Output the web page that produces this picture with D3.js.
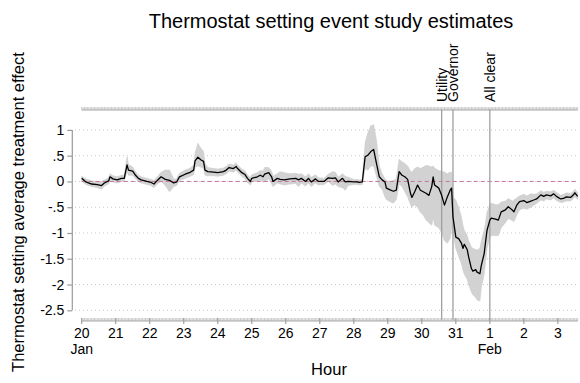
<!DOCTYPE html>
<html lang="en">
<head>
<meta charset="utf-8">
<title>Thermostat setting event study estimates</title>
<script src="https://d3js.org/d3.v7.min.js"></script>
<style>
  body { margin: 0; background: #fff; }
  svg { display: block; font-family: "Liberation Sans", Arial, sans-serif; }
</style>
</head>
<body>
<script>
// hours since Jan 20 00:00
var hours = [0, 3, 7, 11, 14, 16, 19, 20, 22, 25, 28, 30, 32, 33, 36, 38, 40, 42, 46, 49,
  51, 53, 56, 59, 62, 65, 67, 69, 73, 76, 79, 80, 82, 84, 86, 87, 89, 93, 96, 100,
  102, 104, 107, 109, 110, 113, 115, 117, 119, 120, 124, 126, 128, 129, 132, 134, 135, 138, 140, 143,
  147, 151, 153, 155, 158, 160, 162, 165, 167, 171, 174, 177, 179, 181, 184, 186, 188, 192, 194, 196,
  198, 200, 202, 204, 206, 208, 210, 212, 214, 215, 218, 220, 222, 224, 226, 228, 230, 232, 233, 235,
  237, 239, 241, 243, 245, 247, 248, 249, 252, 254, 256, 258, 260, 261, 262, 264, 266, 268, 269, 270,
  272, 273, 275, 276, 278, 279, 281, 282, 284, 285, 286, 288, 289, 292, 294, 296, 299, 301, 304, 305,
  307, 309, 312, 314, 317, 319, 321, 324, 326, 328, 331, 333, 335, 338, 340, 342, 345, 347, 348, 350];

var estimate = [0.06, -0.01, -0.05, -0.06, -0.08, -0.03, 0.01, 0.09, 0.05, 0.03, 0.06, 0.06, 0.32, 0.22, 0.2, 0.12, 0.06, 0.03, 0.0, -0.02,
  -0.05, 0.01, 0.09, 0.04, 0.02, -0.03, -0.01, 0.09, 0.14, 0.17, 0.22, 0.4, 0.47, 0.42, 0.39, 0.22, 0.19, 0.18, 0.17, 0.19,
  0.22, 0.27, 0.25, 0.29, 0.25, 0.17, 0.14, 0.06, 0.0, 0.06, 0.09, 0.12, 0.09, 0.14, 0.17, 0.09, 0.0, 0.06, 0.04, 0.03,
  0.05, 0.06, 0.03, 0.06, 0.0, 0.06, -0.01, 0.05, 0.0, 0.0, 0.07, 0.06, 0.07, -0.01, 0.06, -0.01, 0.0, -0.01, -0.01, -0.02,
  -0.01, 0.48, 0.51, 0.58, 0.62, 0.35, 0.09, 0.03, -0.01, -0.13, -0.17, -0.19, -0.17, 0.19, 0.12, 0.09, 0.04, -0.23, -0.31, -0.2,
  -0.07, -0.17, -0.2, -0.23, -0.27, -0.1, 0.09, -0.07, -0.13, -0.27, -0.46, -0.3, -0.17, -0.13, -0.69, -1.08, -1.11, -1.2, -1.3, -1.22,
  -1.32, -1.46, -1.69, -1.74, -1.71, -1.76, -1.79, -1.63, -1.4, -1.17, -0.95, -0.75, -0.71, -0.73, -0.75, -0.59, -0.55, -0.49, -0.56, -0.59,
  -0.46, -0.39, -0.37, -0.41, -0.38, -0.36, -0.34, -0.26, -0.29, -0.26, -0.28, -0.24, -0.29, -0.34, -0.33, -0.3, -0.31, -0.26, -0.22, -0.29];

var lower = [0.0, -0.06, -0.1, -0.12, -0.15, -0.09, -0.05, 0.03, -0.01, -0.03, 0.0, 0.0, 0.2, 0.12, 0.12, 0.05, 0.0, -0.03, -0.06, -0.08,
  -0.12, -0.06, 0.0, -0.08, -0.2, -0.1, -0.08, 0.02, 0.06, 0.09, 0.13, 0.28, 0.3, 0.28, 0.25, 0.12, 0.11, 0.11, 0.1, 0.12,
  0.15, 0.2, 0.18, 0.22, 0.18, 0.1, 0.06, -0.02, -0.07, -0.01, 0.01, 0.03, -0.02, 0.0, 0.05, -0.05, -0.1, -0.03, -0.05, -0.07,
  -0.05, -0.04, -0.1, -0.03, -0.09, -0.03, -0.1, -0.03, -0.07, -0.06, 0.0, -0.08, -0.05, -0.1, -0.12, -0.17, -0.08, -0.06, -0.06, -0.07,
  -0.06, 0.25, 0.22, 0.3, 0.3, 0.1, -0.1, -0.15, -0.3, -0.35, -0.4, -0.42, -0.35, -0.05, -0.1, -0.2, -0.3, -0.45, -0.5, -0.45,
  -0.5, -0.6, -0.65, -0.75, -0.8, -0.85, -0.7, -0.85, -0.9, -1.0, -1.15, -1.2, -1.1, -0.9, -1.0, -1.3, -1.45, -1.6, -1.72, -1.8,
  -1.9, -2.0, -2.15, -2.2, -2.25, -2.3, -2.32, -2.05, -1.8, -1.55, -1.3, -1.1, -1.05, -1.05, -1.05, -0.9, -0.8, -0.72, -0.76, -0.78,
  -0.65, -0.55, -0.52, -0.54, -0.5, -0.46, -0.43, -0.36, -0.38, -0.34, -0.36, -0.32, -0.37, -0.41, -0.4, -0.38, -0.38, -0.33, -0.29, -0.35];

var upper = [0.1, 0.05, 0.01, 0.0, 0.0, 0.03, 0.07, 0.15, 0.11, 0.09, 0.12, 0.12, 0.48, 0.33, 0.28, 0.19, 0.12, 0.09, 0.06, 0.04,
  0.02, 0.08, 0.18, 0.22, 0.22, 0.04, 0.05, 0.16, 0.22, 0.25, 0.31, 0.55, 0.74, 0.65, 0.58, 0.35, 0.27, 0.25, 0.24, 0.26,
  0.29, 0.34, 0.32, 0.36, 0.32, 0.24, 0.21, 0.13, 0.07, 0.13, 0.17, 0.21, 0.2, 0.27, 0.27, 0.2, 0.1, 0.15, 0.19, 0.17,
  0.15, 0.16, 0.14, 0.15, 0.09, 0.15, 0.08, 0.13, 0.07, 0.06, 0.14, 0.19, 0.18, 0.08, 0.15, 0.1, 0.08, 0.04, 0.04, 0.03,
  0.04, 0.75, 0.95, 1.08, 1.1, 0.8, 0.3, 0.15, 0.05, 0.02, 0.0, 0.02, 0.05, 0.43, 0.38, 0.35, 0.3, 0.2, 0.18, 0.25,
  0.28, 0.25, 0.28, 0.31, 0.3, 0.28, 0.3, 0.26, 0.21, 0.2, 0.18, 0.15, 0.18, 0.18, -0.3, -0.36, -0.5, -0.7, -0.85, -0.95,
  -1.05, -1.15, -1.27, -1.3, -1.32, -1.33, -1.3, -1.15, -0.95, -0.8, -0.6, -0.45, -0.42, -0.45, -0.45, -0.4, -0.38, -0.33, -0.38, -0.36,
  -0.32, -0.28, -0.25, -0.28, -0.24, -0.25, -0.24, -0.18, -0.21, -0.19, -0.2, -0.17, -0.21, -0.27, -0.25, -0.22, -0.24, -0.19, -0.15, -0.22];

var dayLabels = ["20", "21", "22", "23", "24", "25", "26", "27", "28", "29", "30", "31", "1", "2", "3"];
var monthLabels = ["Jan", "", "", "", "", "", "", "", "", "", "", "", "Feb", "", ""];
var yTicks = [1, 0.5, 0, -0.5, -1, -1.5, -2, -2.5];
var yTickLabels = ["1", ".5", "0", "-.5", "-1", "-1.5", "-2", "-2.5"];
var eventNames = ["Utility", "Governor", "All clear"];
var eventHours = [254, 262, 288];

var width = 580, height = 383;

var svg = d3.select("body").append("svg")
  .attr("width", width)
  .attr("height", height);

var x = d3.scaleLinear().domain([0, 350]).range([81.7, 577.7]);
var y = d3.scaleLinear().domain([-2.5, 1]).range([310.3, 129.9]);

var data = hours.map(function(h, i) {
  return {h: h, est: estimate[i], lo: lower[i], hi: upper[i]};
});

// title
svg.append("text")
  .attr("x", 331).attr("y", 27.5)
  .attr("text-anchor", "middle")
  .style("font-size", "20px")
  .text("Thermostat setting event study estimates");

// horizontal dotted grid
svg.selectAll(".grid").data(yTicks).enter().append("line")
  .attr("x1", 75).attr("x2", 578)
  .attr("y1", function(d) { return y(d); })
  .attr("y2", function(d) { return y(d); })
  .attr("stroke", "#c8c8c8")
  .attr("stroke-width", 1)
  .attr("stroke-dasharray", "1,3");

// confidence band
var area = d3.area()
  .x(function(d) { return x(d.h); })
  .y0(function(d) { return y(d.lo); })
  .y1(function(d) { return y(d.hi); });

svg.append("path").datum(data)
  .attr("d", area)
  .attr("fill", "#d2d2d2")
  .attr("stroke", "#cbcbcb")
  .attr("stroke-width", 0.6);

// zero reference line
svg.append("line")
  .attr("x1", x(0)).attr("x2", x(350))
  .attr("y1", y(0)).attr("y2", y(0))
  .attr("stroke", "#c9719f")
  .attr("stroke-width", 1)
  .attr("stroke-dasharray", "4,3");

// event lines + labels
var topY = 109, botY = 320;
svg.selectAll(".event").data(eventHours).enter().append("line")
  .attr("x1", function(d) { return x(d); })
  .attr("x2", function(d) { return x(d); })
  .attr("y1", topY).attr("y2", botY)
  .attr("stroke", "#a0a0a0")
  .attr("stroke-width", 1.3);

svg.selectAll(".evlabel").data(eventHours).enter().append("text")
  .attr("transform", function(d) { return "translate(" + (x(d) + 5) + "," + 102 + ") rotate(-90)"; })
  .style("font-size", "14px")
  .text(function(d, i) { return eventNames[i]; });

// estimate line
var line = d3.line()
  .x(function(d) { return x(d.h); })
  .y(function(d) { return y(d.est); });

svg.append("path").datum(data)
  .attr("d", line)
  .attr("fill", "none")
  .attr("stroke", "#000")
  .attr("stroke-width", 1.3)
  .attr("stroke-linejoin", "round");

// y axis
var yAxis = d3.axisLeft(y)
  .tickValues(yTicks)
  .tickFormat(function(d, i) { return yTickLabels[i]; })
  .tickSize(5)
  .tickPadding(3);

var gy = svg.append("g")
  .attr("transform", "translate(72.3,0)")
  .call(yAxis);
gy.select(".domain").attr("stroke", "#9a9a9a").attr("stroke-width", 1.2).attr("d", "M0," + y(1) + "V" + y(-2.5));
gy.selectAll(".tick line").attr("stroke", "#9a9a9a").attr("stroke-width", 1.2);
gy.selectAll(".tick text").style("font-size", "14px").attr("fill", "#000")
  .style("font-family", "'Liberation Sans', Arial, sans-serif");

// top and bottom time axes, hatched with hourly minor ticks
var minorHours = d3.range(0, 351, 1);
function timeBand(yPos) {
  var g = svg.append("g");
  g.selectAll("line.minor").data(minorHours).enter().append("line")
    .attr("x1", function(d) { return x(d); })
    .attr("x2", function(d) { return x(d); })
    .attr("y1", yPos - 2).attr("y2", yPos + 1)
    .attr("stroke", "#b4b4b4")
    .attr("stroke-width", 0.7);
  g.append("line")
    .attr("x1", x(0)).attr("x2", x(350))
    .attr("y1", yPos + 1).attr("y2", yPos + 1)
    .attr("stroke", "#a8a8a8")
    .attr("stroke-width", 1);
  return g;
}
timeBand(topY);
var gb = timeBand(botY);

var dayHours = dayLabels.map(function(d, i) { return i * 24; });
gb.selectAll("line.major").data(dayHours).enter().append("line")
  .attr("x1", function(d) { return x(d); })
  .attr("x2", function(d) { return x(d); })
  .attr("y1", botY - 2).attr("y2", botY + 4)
  .attr("stroke", "#a0a0a0")
  .attr("stroke-width", 1.2);

gb.selectAll("text.day").data(dayHours).enter().append("text")
  .attr("x", function(d) { return x(d); })
  .attr("y", 337.5)
  .attr("text-anchor", "middle")
  .style("font-size", "14px")
  .text(function(d, i) { return dayLabels[i]; });

gb.selectAll("text.month").data(dayHours).enter().append("text")
  .attr("x", function(d) { return x(d); })
  .attr("y", 353.5)
  .attr("text-anchor", "middle")
  .style("font-size", "14px")
  .text(function(d, i) { return monthLabels[i]; });

// axis titles
svg.append("text")
  .attr("x", 329).attr("y", 375)
  .attr("text-anchor", "middle")
  .style("font-size", "16.5px")
  .text("Hour");

svg.append("text")
  .attr("transform", "translate(24,212) rotate(-90)")
  .attr("text-anchor", "middle")
  .style("font-size", "16.5px")
  .text("Thermostat setting average treatment effect");
</script>
</body>
</html>
